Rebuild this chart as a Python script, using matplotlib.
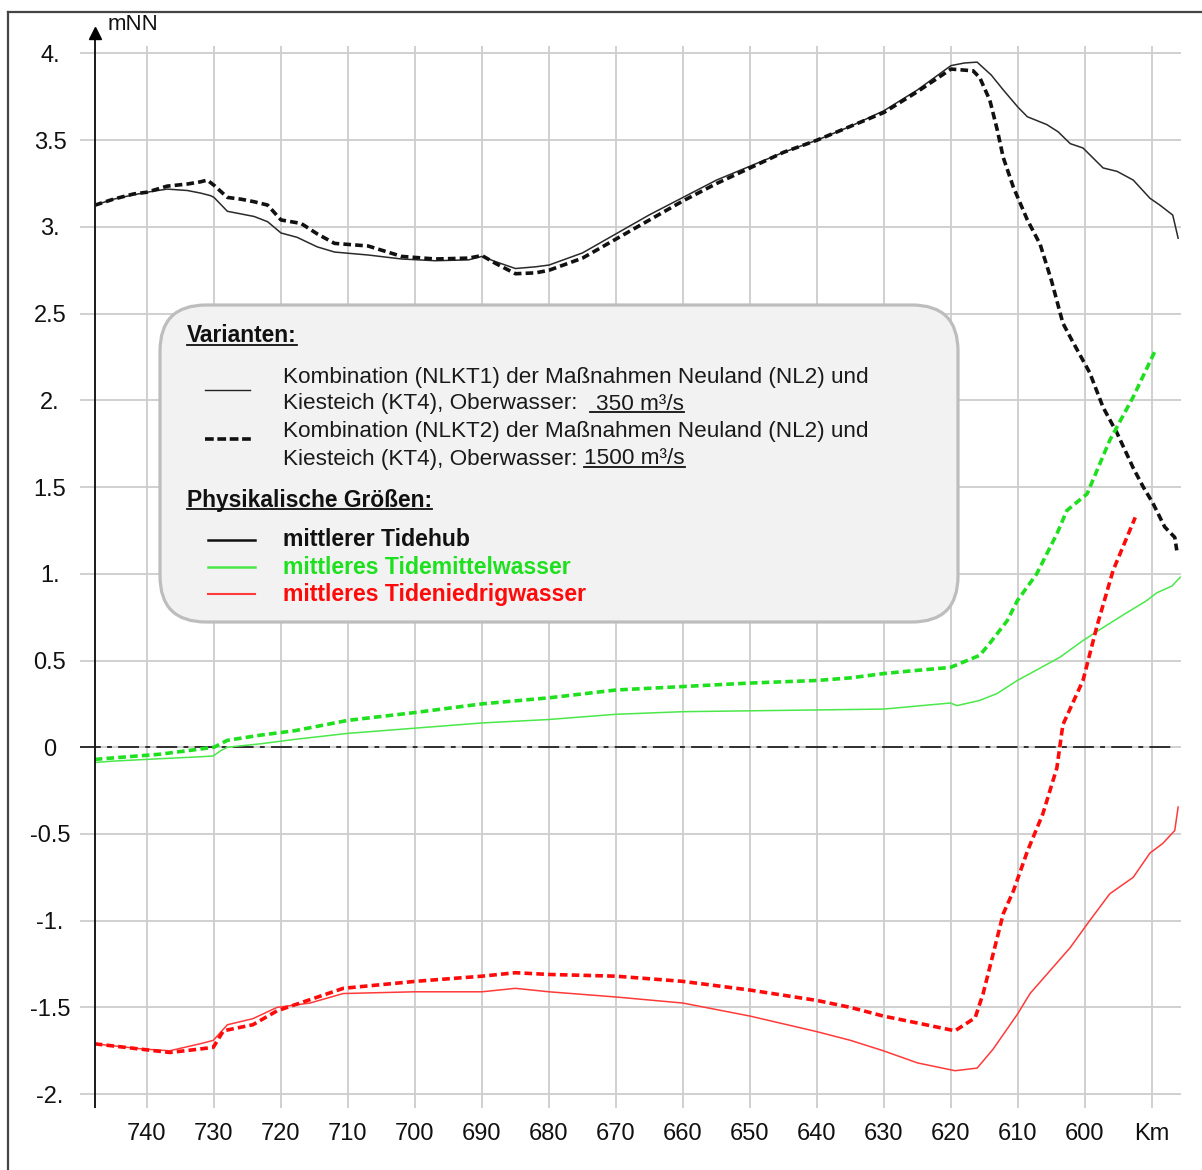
import matplotlib
matplotlib.use("Agg")
import matplotlib.pyplot as plt
from matplotlib.patches import FancyBboxPatch
from matplotlib.lines import Line2D

plt.rcParams['font.family'] = ['Liberation Sans', 'DejaVu Sans']
plt.rcParams['lines.scale_dashes'] = False

# ---------------- data (km, mNN) ----------------
km_tidehub_350 = [747.8, 745, 742, 740, 737, 734, 732, 730.5, 730, 728, 726, 724, 722, 720,
                  717.6, 714.6, 712, 707, 702, 697, 692, 690, 688, 685, 682, 680, 675, 670,
                  665, 660, 655, 650, 645, 640, 635, 630, 625, 620, 618, 616.1, 614, 612.2,
                  610, 608.6, 605.7, 604, 602.2, 600.3, 597.3, 595.2, 592.8, 590.3, 588.8,
                  586.9, 586.1]
tidehub_350 = [3.125, 3.16, 3.185, 3.20, 3.218, 3.21, 3.195, 3.18, 3.17, 3.09, 3.075, 3.06,
               3.03, 2.965, 2.94, 2.885, 2.855, 2.838, 2.815, 2.805, 2.81, 2.83, 2.80, 2.76,
               2.77, 2.78, 2.85, 2.96, 3.07, 3.17, 3.27, 3.35, 3.43, 3.5, 3.58, 3.67, 3.79,
               3.93, 3.945, 3.95, 3.876, 3.79, 3.69, 3.635, 3.59, 3.548, 3.48, 3.455, 3.34,
               3.32, 3.27, 3.165, 3.125, 3.068, 2.935]

km_tidehub_1500 = [747.8, 745, 742, 740, 737, 734, 732, 731, 730, 728, 726, 724, 722, 720,
                   717, 714.6, 712, 707, 702, 697, 692, 690, 688, 685, 682, 680, 675, 670,
                   665, 660, 655, 650, 645, 640, 635, 630, 625, 620, 616.7, 615.7, 614.2,
                   613.1, 612.2, 610.7, 608.6, 606.7, 605, 603.3, 602, 599.3, 597.3, 595.2,
                   592.8, 591.3, 589.9, 588.1, 586.6, 586.3]
tidehub_1500 = [3.125, 3.16, 3.19, 3.20, 3.235, 3.247, 3.26, 3.27, 3.24, 3.17, 3.16, 3.145,
                3.126, 3.04, 3.02, 2.96, 2.905, 2.89, 2.83, 2.815, 2.82, 2.835, 2.79, 2.73,
                2.735, 2.75, 2.82, 2.93, 3.04, 3.15, 3.25, 3.34, 3.43, 3.5, 3.58, 3.66, 3.78,
                3.91, 3.90, 3.86, 3.73, 3.56, 3.40, 3.23, 3.04, 2.90, 2.69, 2.445, 2.35, 2.16,
                1.96, 1.81, 1.61, 1.5, 1.41, 1.27, 1.21, 1.135]

km_tmw_350 = [747.8, 745, 738, 732, 730.1, 729, 728, 723, 718, 710, 700, 690, 680, 670, 660,
              650, 640, 630, 620.1, 619.1, 615.7, 613.1, 610.1, 607, 603.7, 600.3, 597.3,
              594, 590.8, 589.3, 587, 585.8]
tmw_350 = [-0.088, -0.08, -0.066, -0.055, -0.05, -0.02, 0.0, 0.02, 0.045, 0.08, 0.11, 0.14,
           0.16, 0.19, 0.205, 0.21, 0.215, 0.22, 0.255, 0.24, 0.27, 0.31, 0.385, 0.45, 0.52,
           0.615, 0.69, 0.77, 0.845, 0.89, 0.93, 0.98]

km_tmw_1500 = [747.8, 738, 730, 728, 723, 718, 710, 700, 690, 680, 670, 660, 650, 640, 635,
               630, 626, 620.1, 615.7, 614.2, 611.6, 610.1, 607.2, 604.2, 602.7, 599.7, 596.3,
               592.8, 589.6]
tmw_1500 = [-0.07, -0.04, 0.0, 0.04, 0.07, 0.095, 0.155, 0.2, 0.25, 0.285, 0.33, 0.35, 0.37,
            0.385, 0.40, 0.425, 0.44, 0.46, 0.53, 0.6, 0.73, 0.845, 1.0, 1.23, 1.365, 1.46,
            1.77, 2.02, 2.28]

km_tnw_350 = [747.8, 740.6, 736.6, 732.1, 730.1, 728, 724.2, 720.6, 715.7, 710.7, 700, 690,
              685, 680, 670, 660, 650, 640, 635, 630.1, 625, 619.4, 616.1, 613.7, 610.1,
              608.2, 602.2, 599.3, 596.3, 592.8, 590.3, 588.4, 586.6, 586.1]
tnw_350 = [-1.71, -1.74, -1.75, -1.71, -1.69, -1.6, -1.565, -1.50, -1.475, -1.42, -1.41,
           -1.41, -1.39, -1.41, -1.44, -1.475, -1.55, -1.64, -1.69, -1.75, -1.82, -1.865,
           -1.85, -1.74, -1.54, -1.42, -1.155, -1.0, -0.845, -0.75, -0.61, -0.555, -0.48,
           -0.345]

km_tnw_1500 = [747.8, 736.6, 732.1, 730.1, 728.6, 724.2, 720.6, 710.7, 700, 690, 685, 680,
               670, 660, 650, 640, 635, 630.1, 625, 619.4, 616.4, 615.2, 613.7, 612.2, 610.7,
               608.6, 606.3, 604.2, 603.3, 600.3, 598.2, 595.8, 592.5]
tnw_1500 = [-1.71, -1.76, -1.74, -1.73, -1.635, -1.6, -1.52, -1.39, -1.35, -1.32, -1.30,
            -1.31, -1.32, -1.35, -1.40, -1.46, -1.50, -1.55, -1.59, -1.635, -1.56, -1.42,
            -1.19, -0.96, -0.83, -0.6, -0.385, -0.12, 0.13, 0.385, 0.70, 1.02, 1.325]

x_ticks = [740, 730, 720, 710, 700, 690, 680, 670, 660, 650, 640, 630, 620, 610, 600, 590]
x_labels = ["740", "730", "720", "710", "700", "690", "680", "670", "660", "650", "640",
            "630", "620", "610", "600", "Km"]
y_ticks = [-2, -1.5, -1, -0.5, 0, 0.5, 1, 1.5, 2, 2.5, 3, 3.5, 4]
y_labels = ["-2.", "-1.5", "-1.", "-0.5", "0", "0.5", "1.", "1.5", "2.", "2.5", "3.", "3.5", "4."]

legend_title_1 = "Varianten:"
variant_1 = ["Kombination (NLKT1) der Maßnahmen Neuland (NL2) und",
             "Kiesteich (KT4), Oberwasser:", "350 m³/s"]
variant_2 = ["Kombination (NLKT2) der Maßnahmen Neuland (NL2) und",
             "Kiesteich (KT4), Oberwasser:", "1500 m³/s"]
legend_title_2 = "Physikalische Größen:"
quantities = ["mittlerer Tidehub", "mittleres Tidemittelwasser", "mittleres Tideniedrigwasser"]

# ---------------- styles ----------------
C_BLACK = '#111111'
C_GREEN_D = '#1ee01e'
C_GREEN_S = '#4ae84a'
C_RED_D = '#ff0a0a'
C_RED_S = '#ff3a3a'
GRID = '#cdcdcd'
DASH = (5.5, 3.0)

W, H, DPI = 1202, 1170, 100
fig = plt.figure(figsize=(W / DPI, H / DPI), dpi=DPI)
fig.patch.set_facecolor('white')

AX_L, AX_R, AX_T, AX_B = 95, 1181, 46, 1108
ax = fig.add_axes([AX_L / W, 1 - AX_B / H, (AX_R - AX_L) / W, (AX_B - AX_T) / H])
ax.set_xlim(747.76, 585.67)
ax.set_ylim(-2.08, 4.043)
for s in ax.spines.values():
    s.set_visible(False)
ax.set_xticks(x_ticks)
ax.set_xticklabels(x_labels)
ax.set_yticks(y_ticks)
ax.set_yticklabels(y_labels)
ax.grid(True, color=GRID, lw=1.3)
ax.set_axisbelow(True)
ax.tick_params(axis='x', length=0, pad=11, labelsize=17, labelcolor='#111111')
ax.tick_params(axis='y', length=10.8, width=1.3, color=GRID, pad=21.6, labelsize=17,
               labelcolor='#111111')
for lb in ax.get_yticklabels():
    lb.set_horizontalalignment('center')

# zero reference line (dash-dot)
ax.plot([750.0, 586.5], [0, 0], color='#222222', lw=1.3, dashes=(15, 4.5, 3.5, 4.5),
        clip_on=False, zorder=3)

# series
ax.plot(km_tidehub_350, tidehub_350, color='#2a2a2a', lw=1.1, zorder=4)
ax.plot(km_tidehub_1500, tidehub_1500, color=C_BLACK, lw=2.6, dashes=DASH, zorder=4)
ax.plot(km_tmw_350, tmw_350, color=C_GREEN_S, lw=1.1, zorder=4)
ax.plot(km_tmw_1500, tmw_1500, color=C_GREEN_D, lw=2.6, dashes=DASH, zorder=4)
ax.plot(km_tnw_350, tnw_350, color=C_RED_S, lw=1.1, zorder=4)
ax.plot(km_tnw_1500, tnw_1500, color=C_RED_D, lw=2.6, dashes=DASH, zorder=4)

# y axis with arrow
ax_h = AX_B - AX_T
ax.plot([0, 0], [0, (AX_B - 38) / ax_h], transform=ax.transAxes, color='#1a1a1a', lw=1.4,
        clip_on=False, zorder=6, solid_capstyle='butt')
ax.plot([0], [(AX_B - 33) / ax_h], transform=ax.transAxes, marker='^', ms=8, color='black',
        clip_on=False, zorder=7, ls='none')

T = fig.dpi_scale_trans


def P(x, y):
    return (x / DPI, (H - y) / DPI)


fig.text(*P(108, 25), 'mNN', transform=T, fontsize=16, va='center', ha='left',
         color='#111111')

# frame around the figure
fig.add_artist(Line2D([8 / DPI, 8 / DPI], [(H - 12) / DPI, 0], transform=T,
                      color='#444444', lw=1.6))
fig.add_artist(Line2D([8 / DPI, W / DPI], [(H - 12) / DPI, (H - 12) / DPI], transform=T,
                      color='#444444', lw=1.6))

# ---------------- legend box ----------------
x0, y0 = P(160, 622)
box = FancyBboxPatch((x0, y0), 798 / DPI, 317 / DPI,
                     boxstyle='round,pad=0,rounding_size=0.46', transform=T,
                     fc='#f2f2f2', ec='#bdbdbd', lw=2.3, zorder=10)
fig.add_artist(box)

renderer = fig.canvas.get_renderer()


def txt(x, y, s, **kw):
    t = fig.text(*P(x, y), s, transform=T, va='center', ha='left', zorder=11, **kw)
    return t


def fit(t, target_px):
    w = t.get_window_extent(renderer).width
    t.set_fontsize(t.get_fontsize() * target_px / w)
    return t.get_fontsize()


def underline(t, x_start=None):
    bb = t.get_window_extent(renderer)
    fs_px = t.get_fontsize() * DPI / 72
    y = bb.y0 + 0.10 * fs_px
    xa = bb.x0 if x_start is None else x_start
    fig.add_artist(Line2D([xa / DPI, bb.x1 / DPI], [y / DPI, y / DPI], transform=T,
                          color='#111111', lw=1.3, zorder=12))


# titles
t_h2 = txt(187, 500, legend_title_2, fontsize=16, fontweight='bold', color='#111111')
fs_title = fit(t_h2, 245)
t_h1 = txt(187, 336, legend_title_1, fontsize=fs_title, fontweight='bold', color='#111111')

# variant texts
t_v1a = txt(283, 378, variant_1[0], fontsize=16, color='#1a1a1a')
fs_var = fit(t_v1a, 585)
t_v1b = txt(283, 404, variant_1[1], fontsize=fs_var, color='#1a1a1a')
t_v2a = txt(283, 432, variant_2[0], fontsize=fs_var, color='#1a1a1a')
t_v2b = txt(283, 459, variant_2[1], fontsize=fs_var, color='#1a1a1a')

end1 = t_v1b.get_window_extent(renderer).x1
end2 = t_v2b.get_window_extent(renderer).x1
# amounts placed after "Oberwasser:"
t_a1 = fig.text((end1 + 19) / DPI, (H - 404) / DPI, variant_1[2], transform=T, va='center',
                ha='left', fontsize=fs_var, color='#1a1a1a', zorder=11)
t_a2 = fig.text((end2 + 7) / DPI, (H - 459) / DPI, variant_2[2], transform=T, va='center',
                ha='left', fontsize=fs_var, color='#1a1a1a', zorder=11)

# quantity texts
q_colors = [C_BLACK, C_GREEN_D, C_RED_D]
q_y = [540, 567, 594]
t_q3 = txt(283, q_y[2], quantities[2], fontsize=16, fontweight='bold', color=q_colors[2])
fs_q = fit(t_q3, 303)
t_q1 = txt(283, q_y[0], quantities[0], fontsize=fs_q, fontweight='bold', color=q_colors[0])
t_q2 = txt(283, q_y[1], quantities[1], fontsize=fs_q, fontweight='bold', color=q_colors[1])

fig.canvas.draw()
renderer = fig.canvas.get_renderer()
underline(t_h1)
underline(t_h2)
underline(t_a1, x_start=end1 + 13)
underline(t_a2)

# legend samples
def sample(xa, xb, y, **kw):
    fig.add_artist(Line2D([xa / DPI, xb / DPI], [(H - y) / DPI, (H - y) / DPI], transform=T,
                          zorder=12, **kw))


sample(205, 250, 390, color='#222222', lw=1.0)
sample(205, 252, 439, color=C_BLACK, lw=2.6, dashes=(6.3, 2.6))
sample(208, 255, q_y[0], color=C_BLACK, lw=1.8)
sample(208, 255, q_y[1], color=C_GREEN_S, lw=1.8)
sample(208, 255, q_y[2], color=C_RED_S, lw=1.5)

fig.savefig('out.png', dpi=DPI)
